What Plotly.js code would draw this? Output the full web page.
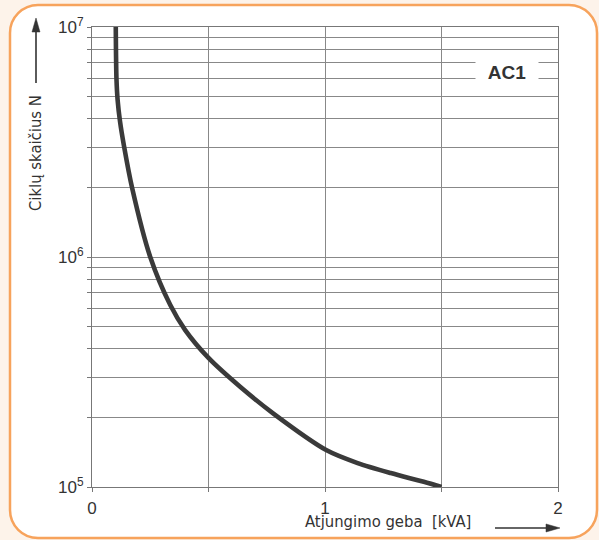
<!DOCTYPE html>
<html>
<head>
<meta charset="utf-8">
<script src="https://cdn.plot.ly/plotly-3.0.1.min.js"></script>
<style>html,body{margin:0;padding:0;background:#fdf3ea;}#chart{width:599px;height:540px;}</style>
</head>
<body>
<div id="chart"></div>
<script>
// Data
const breakingCapacity_kVA = [0.102, 0.105, 0.110, 0.120, 0.138, 0.172, 0.250, 0.336, 0.400, 0.500, 0.637, 0.780, 1.005, 1.140, 1.282, 1.424, 1.5];
const cycles_N = [1e7, 5.94e6, 4.81e6, 3.90e6, 3.01e6, 2.0e6, 1e6, 6.18e5, 4.81e5, 3.64e5, 2.72e5, 2.08e5, 1.448e5, 1.271e5, 1.15e5, 1.053e5, 1e5];
const xMajorVals = [0, 1, 2];
const xMajorText = ['0', '1', '2'];
const xMinorVals = [0.5, 1.5];
const yMajorVals = [1e5, 1e6, 1e7];
const yMajorText = ['10<sup>5</sup>', '10<sup>6</sup>', '10<sup>7</sup>'];
const yMinorMultipliers = [2, 3, 4, 5, 6, 7, 8, 9];
const seriesLabel = 'AC1';
const yTitle = 'Ciklų skaičius N';
const xTitle = 'Atjungimo geba  [kVA]';

const yMinorVals = [];
[1e5, 1e6].forEach(d => yMinorMultipliers.forEach(m => yMinorVals.push(d * m)));

// geometry helpers (pixels -> paper coords)
const L = 92, R = 558, T = 27, B = 487;
const W = R - L, H = B - T;
const px = v => (v - L) / W, py = v => (B - v) / H;
const f = n => n.toFixed(5);

// rounded frame
const x0 = px(10), x1 = px(597), y0 = py(538), y1 = py(5);
const rx = 28 / W, ry = 28 / H, kx = rx * 0.5523, ky = ry * 0.5523;
const framePath = [
  'M', f(x0 + rx), f(y1),
  'L', f(x1 - rx), f(y1),
  'C', f(x1 - rx + kx), f(y1), f(x1), f(y1 - ry + ky), f(x1), f(y1 - ry),
  'L', f(x1), f(y0 + ry),
  'C', f(x1), f(y0 + ry - ky), f(x1 - rx + kx), f(y0), f(x1 - rx), f(y0),
  'L', f(x0 + rx), f(y0),
  'C', f(x0 + rx - kx), f(y0), f(x0), f(y0 + ry - ky), f(x0), f(y0 + ry),
  'L', f(x0), f(y1 - ry),
  'C', f(x0), f(y1 - ry + ky), f(x0 + rx - kx), f(y1), f(x0 + rx), f(y1),
  'Z'
].join(' ');

const tri = pts => 'M ' + pts.map(p => f(px(p[0])) + ' ' + f(py(p[1]))).join(' L ') + ' Z';

const trace = {
  x: breakingCapacity_kVA,
  y: cycles_N,
  type: 'scatter',
  mode: 'lines',
  line: { color: '#3a3a3a', width: 4.6, shape: 'spline', smoothing: 0.8 },
  hoverinfo: 'skip',
  showlegend: false
};

const tickFont = { family: 'Liberation Sans, Arial, sans-serif', size: 17, color: '#333' };
const titleFont = { family: 'DejaVu Sans Condensed, Liberation Sans Narrow, sans-serif', size: 16.5, color: '#333' };

const gridCol = '#888';
const layout = {
  width: 599, height: 540,
  margin: { l: L, r: 599 - R, t: T, b: 540 - B },
  paper_bgcolor: '#fdf3ea',
  plot_bgcolor: 'rgba(0,0,0,0)',
  xaxis: {
    range: [0, 2],
    tickmode: 'array', tickvals: xMajorVals, ticktext: xMajorText,
    ticks: 'outside', ticklen: 4, tickcolor: '#777',
    showgrid: true, gridcolor: gridCol, gridwidth: 1,
    minor: { tickmode: 'array', tickvals: xMinorVals, ticks: 'outside', ticklen: 4, tickcolor: '#777', showgrid: true, gridcolor: gridCol, gridwidth: 1 },
    showline: true, linecolor: '#777', linewidth: 1, mirror: true,
    zeroline: false,
    tickfont: tickFont,
    ticklabelstandoff: 2,
    fixedrange: true
  },
  yaxis: {
    type: 'log',
    range: [5, 7],
    tickmode: 'array', tickvals: yMajorVals, ticktext: yMajorText,
    ticks: 'outside', ticklen: 4, tickcolor: '#777',
    showgrid: true, gridcolor: gridCol, gridwidth: 1,
    minor: { tickmode: 'array', tickvals: yMinorVals, ticks: 'outside', ticklen: 4, tickcolor: '#777', showgrid: true, gridcolor: gridCol, gridwidth: 1 },
    showline: true, linecolor: '#777', linewidth: 1, mirror: true,
    zeroline: false,
    tickfont: tickFont,
    fixedrange: true
  },
  shapes: [
    { type: 'path', xref: 'paper', yref: 'paper', path: framePath,
      fillcolor: '#ffffff', line: { color: '#f7a35c', width: 2.5 }, layer: 'below' },
    // y-direction arrow
    { type: 'line', xref: 'paper', yref: 'paper', x0: px(36), y0: py(83), x1: px(36), y1: py(30),
      line: { color: '#333', width: 1.6 } },
    { type: 'path', xref: 'paper', yref: 'paper', path: tri([[36, 18], [32, 32], [40, 32]]),
      fillcolor: '#333', line: { color: '#333', width: 0.5 } },
    // x-direction arrow
    { type: 'line', xref: 'paper', yref: 'paper', x0: px(495), y0: py(528), x1: px(548), y1: py(528),
      line: { color: '#333', width: 1.6 } },
    { type: 'path', xref: 'paper', yref: 'paper', path: tri([[560, 528], [546, 524], [546, 532]]),
      fillcolor: '#333', line: { color: '#333', width: 0.5 } }
  ],
  annotations: [
    { xref: 'paper', yref: 'paper', x: px(507), y: py(72), text: '<b>' + seriesLabel + '</b>',
      showarrow: false, font: { family: 'Liberation Sans, Arial, sans-serif', size: 19, color: '#333' },
      bgcolor: '#ffffff', width: 58, height: 30, borderpad: 2, xanchor: 'center', yanchor: 'middle' },
    { xref: 'paper', yref: 'paper', x: px(35), y: py(153), text: yTitle, textangle: -90,
      showarrow: false, font: titleFont, xanchor: 'center', yanchor: 'middle' },
    { xref: 'paper', yref: 'paper', x: px(388), y: py(521), text: xTitle,
      showarrow: false, font: titleFont, xanchor: 'center', yanchor: 'middle' }
  ]
};

Plotly.newPlot('chart', [trace], layout, { staticPlot: true, displayModeBar: false });
</script>
</body>
</html>
